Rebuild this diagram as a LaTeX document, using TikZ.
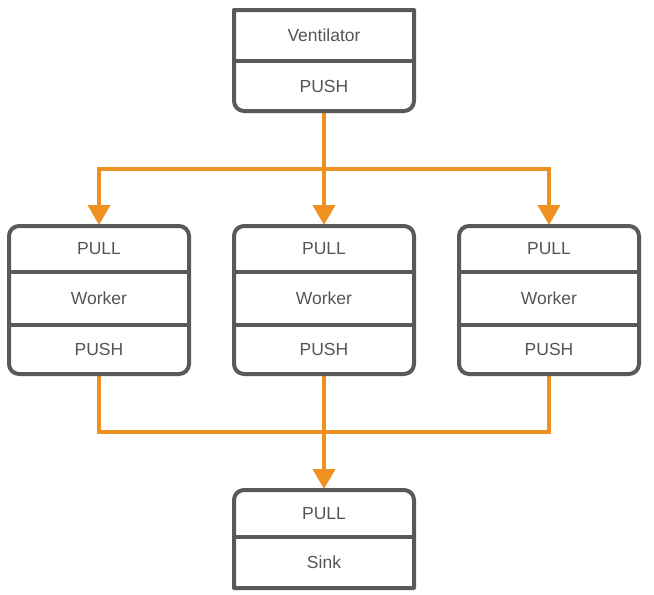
\documentclass[tikz,border=0pt]{standalone}
\usepackage{fontspec}
\setmainfont{Liberation Sans}
\usetikzlibrary{arrows.meta, positioning}

\definecolor{boxgray}{HTML}{595959}
\definecolor{textgray}{HTML}{555555}
\definecolor{flow}{HTML}{EE9121}

\tikzset{
    cell/.style={minimum width=180pt, inner sep=0pt, outer sep=0pt, text=textgray,
        font=\fontsize{17.5}{20}\selectfont},
    frame/.style={draw=boxgray, line width=4pt, line join=round},
    pipe/.style={draw=flow, line width=4pt},
    pipeto/.style={pipe, -{Triangle[width=22pt,length=20pt]}, shorten >=1pt}
}

\begin{document}
\begin{tikzpicture}[x=1pt, y=-1pt]
    \useasboundingbox (0,0) rectangle (654,595);

    % ventilator
    \node[cell, minimum height=51pt] (vent) at (324,35.5) {Ventilator};
    \node[cell, minimum height=50pt, below=0pt of vent] (ventpush) {PUSH};

    % workers
    \foreach \i/\x in {1/99, 2/324, 3/549} {
        \node[cell, minimum height=46pt] (w\i pull) at (\x,249) {PULL};
        \node[cell, minimum height=53pt, below=0pt of w\i pull] (w\i work) {Worker};
        \node[cell, minimum height=49pt, below=0pt of w\i work] (w\i push) {PUSH};
    }

    % sink
    \node[cell, minimum height=47pt] (sinkpull) at (324,513.5) {PULL};
    \node[cell, minimum height=51pt, below=0pt of sinkpull] (sink) {Sink};

    % fan out / fan in
    \coordinate (split) at (324,169);
    \coordinate (join) at (324,432);
    \draw[pipe] (ventpush.south) -- (split);
    \draw[pipeto] (split) -| (w1pull.north);
    \draw[pipeto] (split) -- (w2pull.north);
    \draw[pipeto] (split) -| (w3pull.north);
    \draw[pipe] (w1push.south) |- (join);
    \draw[pipe] (w3push.south) |- (join);
    \draw[pipeto] (w2push.south) -- (sinkpull.north);

    % outlines
    \draw[frame] (vent.north west) -- (vent.north east) [rounded corners=10pt] -- (ventpush.south east) -- (ventpush.south west) [sharp corners] -- cycle;
    \draw[frame] (vent.south west) -- (vent.south east);
    \foreach \i in {1,2,3} {
        \draw[frame, rounded corners=10pt] (w\i pull.north west) rectangle (w\i push.south east);
        \draw[frame] (w\i pull.south west) -- (w\i pull.south east);
        \draw[frame] (w\i work.south west) -- (w\i work.south east);
    }
    \draw[frame] (sink.north west) [rounded corners=10pt] -- (sinkpull.north west) -- (sinkpull.north east) [sharp corners] -- (sink.south east) -- (sink.south west) -- cycle;
    \draw[frame] (sinkpull.south west) -- (sinkpull.south east);
\end{tikzpicture}
\end{document}
